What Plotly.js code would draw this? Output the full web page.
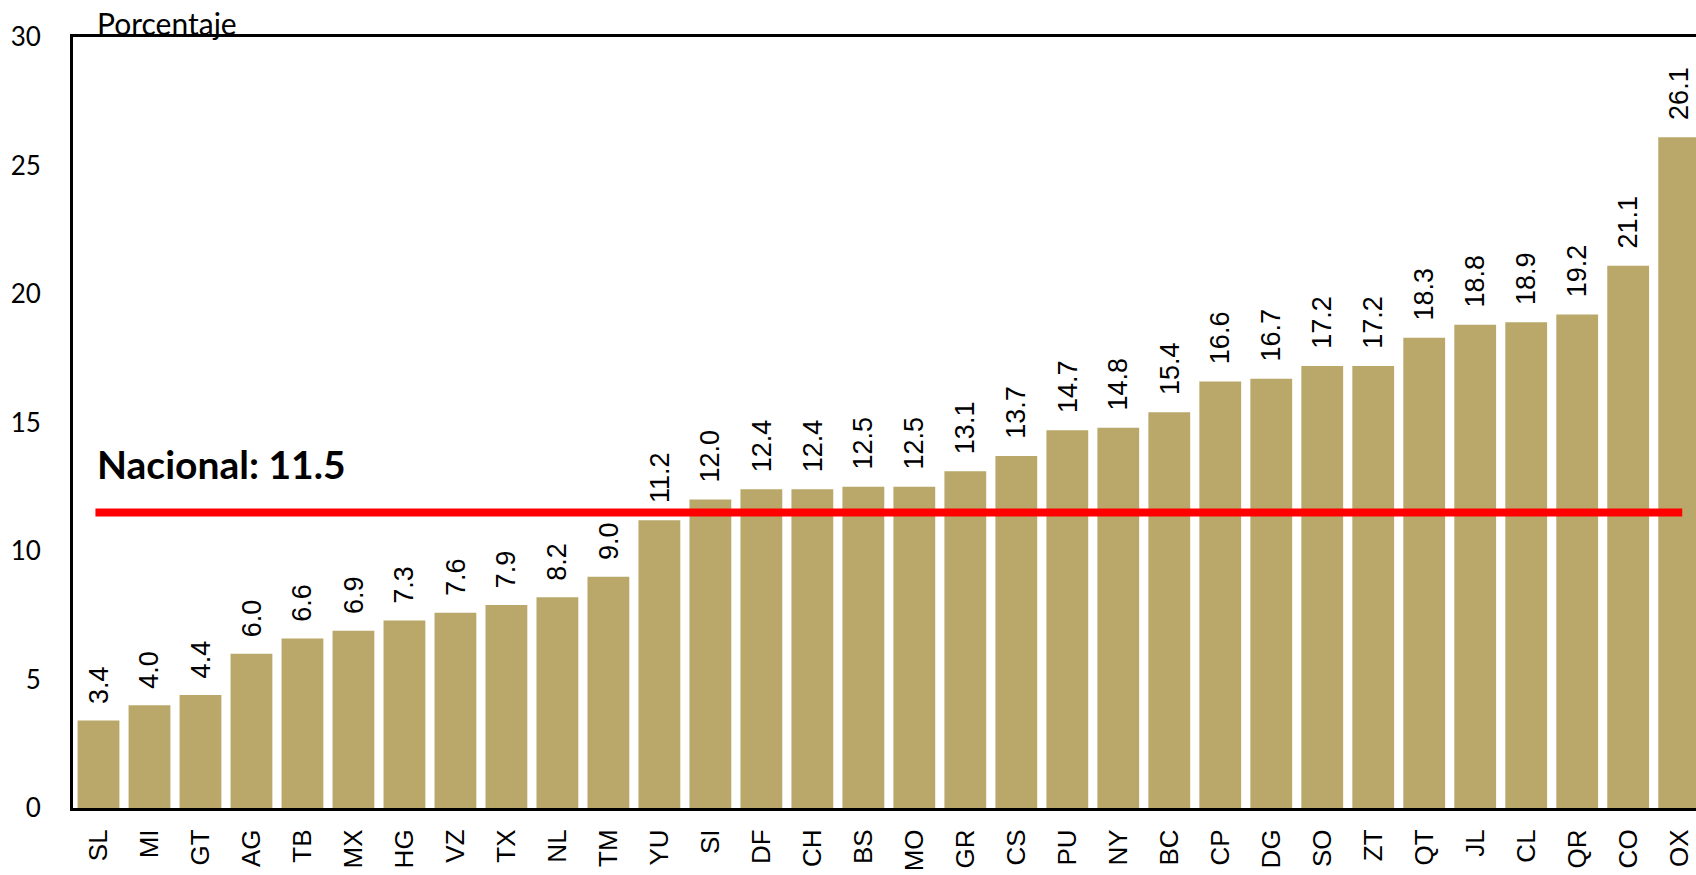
<!DOCTYPE html>
<html>
<head>
<meta charset="utf-8">
<script src="https://cdn.plot.ly/plotly-3.0.1.min.js"></script>
<style>
  html, body { margin: 0; padding: 0; background: white; }
  #plot { width: 1696px; height: 875px; }
</style>
</head>
<body>
<div id="plot"></div>
<script>
const estados = ['SL', 'MI', 'GT', 'AG', 'TB', 'MX', 'HG', 'VZ', 'TX', 'NL', 'TM', 'YU', 'SI', 'DF', 'CH', 'BS',
                 'MO', 'GR', 'CS', 'PU', 'NY', 'BC', 'CP', 'DG', 'SO', 'ZT', 'QT', 'JL', 'CL', 'QR', 'CO', 'OX'];
const porcentaje = [3.4, 4.0, 4.4, 6.0, 6.6, 6.9, 7.3, 7.6, 7.9, 8.2, 9.0, 11.2, 12.0, 12.4, 12.4, 12.5,
                    12.5, 13.1, 13.7, 14.7, 14.8, 15.4, 16.6, 16.7, 17.2, 17.2, 18.3, 18.8, 18.9, 19.2, 21.1, 26.1];
const nacional = 11.5;
const yTicks = [0, 5, 10, 15, 20, 25, 30];

const barras = {
    x: estados,
    y: porcentaje,
    type: 'bar',
    marker: { color: '#b9a86a' },
    hoverinfo: 'x+y'
};

// etiquetas de valor giradas sobre cada barra
const etiquetas = estados.map((e, i) => ({
    x: e,
    y: porcentaje[i],
    xref: 'x', yref: 'y',
    text: porcentaje[i].toFixed(1),
    textangle: -90,
    showarrow: false,
    xanchor: 'center',
    yanchor: 'bottom',
    yshift: 15,
    font: { family: 'Liberation Sans, Arial, sans-serif', size: 27, color: 'black' }
}));

const layout = {
    width: 1696,
    height: 875,
    margin: { l: 73, r: 0, t: 37, b: 67 },
    paper_bgcolor: 'white',
    plot_bgcolor: 'white',
    showlegend: false,
    bargap: 0.18,
    xaxis: {
        type: 'category',
        range: [-0.5, 31.33],
        tickangle: -90,
        ticks: '',
        ticklabelstandoff: 8,
        showline: true,
        linecolor: 'black',
        linewidth: 3,
        mirror: true,
        showgrid: false,
        zeroline: false,
        tickfont: { family: 'Liberation Sans, Arial, sans-serif', size: 26, color: 'black' }
    },
    yaxis: {
        range: [0, 30],
        tickvals: yTicks,
        ticks: '',
        ticklabelstandoff: 24,
        showline: true,
        linecolor: 'black',
        linewidth: 3,
        showgrid: false,
        zeroline: false,
        tickfont: { family: 'Lato, sans-serif', size: 26, color: 'black' }
    },
    shapes: [{
        type: 'line',
        xref: 'x', yref: 'y',
        x0: -0.06, x1: 31.06,
        y0: nacional, y1: nacional,
        line: { color: '#ff0000', width: 8 }
    }],
    annotations: [
        ...etiquetas,
        {
            x: -0.06, y: nacional, xref: 'x', yref: 'y',
            text: '<b>Nacional: ' + nacional.toFixed(1) + '</b>',
            showarrow: false,
            xanchor: 'left', yanchor: 'middle',
            yshift: 48,
            font: { family: 'Lato, sans-serif', size: 39, color: 'black' }
        },
        {
            x: -0.06, y: 1, xref: 'x', yref: 'paper',
            text: 'Porcentaje',
            showarrow: false,
            xanchor: 'left', yanchor: 'middle',
            yshift: 14,
            font: { family: 'Lato, sans-serif', size: 30, color: 'black' }
        }
    ]
};

Plotly.newPlot('plot', [barras], layout, { displayModeBar: false });
</script>
</body>
</html>
